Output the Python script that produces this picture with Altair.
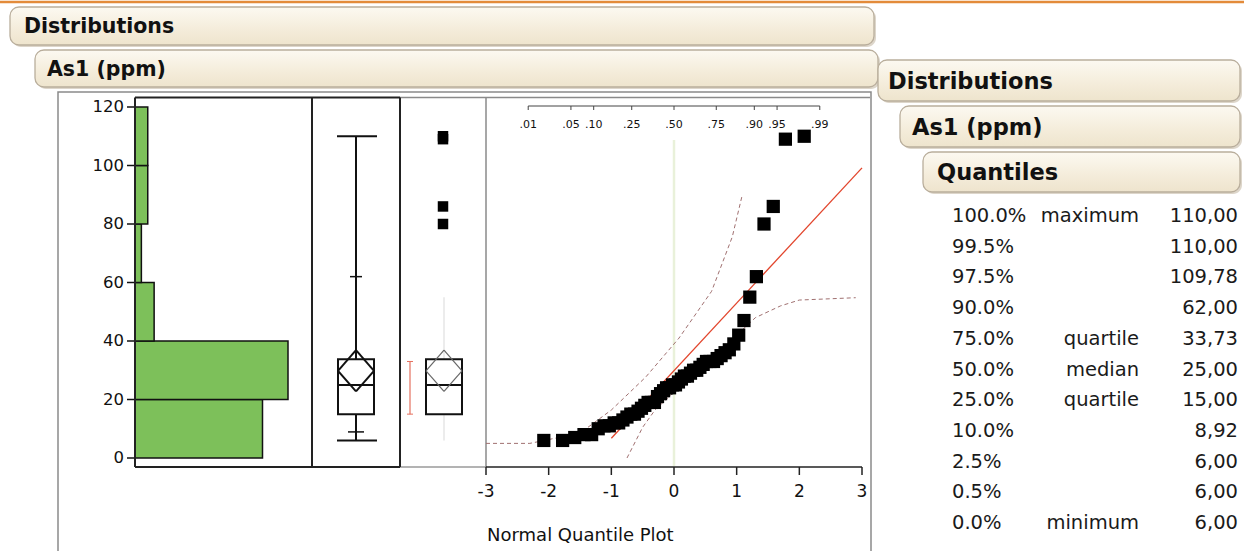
import altair as alt
import pandas as pd
from statistics import NormalDist

# ---------------- data ----------------
values = [6, 6, 7, 8, 8, 10, 11, 11, 12, 12, 13, 14, 15, 15, 16, 17, 18, 19, 19, 19,
          21, 22, 23, 24, 24, 25, 25, 26, 27, 28, 28, 29, 30, 30, 31, 32, 33, 33, 33, 34,
          35, 36, 37, 39, 42, 47, 55, 62, 80, 86, 109, 110]
bin_lo = [0, 20, 40, 60, 80, 100]
bin_hi = [20, 40, 60, 80, 100, 120]
bin_count = [20, 24, 3, 1, 2, 2]
value_ticks = [0, 20, 40, 60, 80, 100, 120]
z_ticks = [-3, -2, -1, 0, 1, 2, 3]
prob_ticks = [0.01, 0.05, 0.10, 0.25, 0.50, 0.75, 0.90, 0.95, 0.99]
prob_labels = [".01", ".05", ".10", ".25", ".50", ".75", ".90", ".95", ".99"]

box_min, box_p10, box_q1, box_med, box_q3, box_p90, box_max = 6, 8.92, 15, 25, 33.73, 62, 110
mean_lo, mean_mid, mean_hi = 22.8, 29.8, 36.9
outliers = [80, 86, 109, 110]
inner_whisker = [6, 55]
shortest_half = [15, 33]

fit_z = [-1.0, 3.0]
upper_band_z = [-3.0, -2.3, -1.5, -1.0, -0.45, 0.08, 0.6, 0.93, 1.09]
upper_band_v = [5, 5, 8.5, 16.4, 27.7, 41, 57, 75.6, 90]
lower_band_z = [-0.75, -0.5, -0.3, 0.0, 0.5, 1.0, 1.3, 1.7, 2.0, 2.9]
lower_band_v = [0, 10.5, 16.5, 22.5, 32, 42, 48, 52, 54, 54.8]

q_pct = ["100.0%", "99.5%", "97.5%", "90.0%", "75.0%", "50.0%", "25.0%", "10.0%", "2.5%", "0.5%", "0.0%"]
q_name = ["maximum", "", "", "", "quartile", "median", "quartile", "", "", "", "minimum"]
q_val = ["110,00", "110,00", "109,78", "62,00", "33,73", "25,00", "15,00", "8,92", "6,00", "6,00", "6,00"]

# ---------------- derived ----------------
nd = NormalDist()
n = len(values)
pts = pd.DataFrame({"z": [nd.inv_cdf((i + 1) / (n + 1)) for i in range(n)], "v": values})
mean = sum(values) / n
sd = (sum((v - mean) ** 2 for v in values) / (n - 1)) ** 0.5
fit = pd.DataFrame({"z": fit_z, "v": [mean + sd * z for z in fit_z], "i": [0, 1]})
ub = pd.DataFrame({"z": upper_band_z, "v": upper_band_v, "i": list(range(len(upper_band_z)))})
lb = pd.DataFrame({"z": lower_band_z, "v": lower_band_v, "i": list(range(len(lower_band_z)))})
hist = pd.DataFrame({"lo": bin_lo, "hi": bin_hi, "count": bin_count, "base": [0] * len(bin_lo)})
vt = pd.DataFrame({"v": value_ticks, "lab": [str(t) for t in value_ticks]})
zt = pd.DataFrame({"z": z_ticks, "lab": [str(t) for t in z_ticks]})
pt = pd.DataFrame({"z": [nd.inv_cdf(p) for p in prob_ticks], "lab": prob_labels})
pline = pd.DataFrame({"z1": [nd.inv_cdf(prob_ticks[0])], "z2": [nd.inv_cdf(prob_ticks[-1])]})
zline = pd.DataFrame({"z1": [z_ticks[0]], "z2": [z_ticks[-1]]})
bx = pd.DataFrame([{"mn": box_min, "p10": box_p10, "q1": box_q1, "med": box_med, "q3": box_q3,
                    "p90": box_p90, "mx": box_max, "mlo": mean_lo, "mm": mean_mid, "mhi": mean_hi,
                    "w1": inner_whisker[0], "w2": inner_whisker[1],
                    "s1": shortest_half[0], "s2": shortest_half[1]}])
out = pd.DataFrame({"v": outliers})
tbl = pd.DataFrame({"row": list(range(len(q_pct))), "pct": q_pct, "name": q_name, "val": q_val})

FONT = "DejaVu Sans"
INK = "#111111"
one = alt.Data(values=[{"a": 1}])


def YV():
    return alt.Scale(domain=[0, 120], range=[458, 107], zero=False, nice=False)


def XC():
    return alt.Scale(domain=[0, 24], range=[135, 288], zero=False, nice=False)


def XZ():
    return alt.Scale(domain=[-3, 3], range=[486, 862], zero=False, nice=False)


def yv(f):
    return alt.Y(f"{f}:Q", scale=YV(), axis=None)


def xz(f):
    return alt.X(f"{f}:Q", scale=XZ(), axis=None)


def seg(x1, y1, x2, y2, color=INK, w=1.0):
    return alt.Chart(one).mark_rule(color=color, strokeWidth=w).encode(
        x=alt.value(x1), x2=alt.value(x2), y=alt.value(y1), y2=alt.value(y2))


def box_rule(x1, x2, f1, color=INK, w=2.0):
    return alt.Chart(bx).mark_rule(color=color, strokeWidth=w).encode(
        x=alt.value(x1), x2=alt.value(x2), y=yv(f1))


def vrule(x, f1, f2, color=INK, w=2.0):
    return alt.Chart(bx).mark_rule(color=color, strokeWidth=w).encode(
        x=alt.value(x), y=yv(f1), y2=alt.Y2(f"{f2}:Q"))


def diag(xa, fa, xb, fb, color=INK, w=2.0):
    return alt.Chart(bx).mark_rule(color=color, strokeWidth=w).encode(
        x=alt.value(xa), x2=alt.value(xb), y=yv(fa), y2=alt.Y2(f"{fb}:Q"))


grad = alt.Gradient(gradient="linear", x1=0, x2=0, y1=0, y2=1,
                    stops=[alt.GradientStop(color="#fcf9f1", offset=0),
                           alt.GradientStop(color="#f4ecda", offset=0.6),
                           alt.GradientStop(color="#eee4cd", offset=1)])


def header(x1, y1, x2, y2, text, size, tx):
    shadow = alt.Chart(one).mark_rect(cornerRadius=9, fill="#ddd6ca").encode(
        x=alt.value(x1 + 2), x2=alt.value(x2 + 2), y=alt.value(y1 + 2), y2=alt.value(y2 + 2))
    box = alt.Chart(one).mark_rect(cornerRadius=9, fill=grad, stroke="#b9ae9c", strokeWidth=1.3).encode(
        x=alt.value(x1), x2=alt.value(x2), y=alt.value(y1), y2=alt.value(y2))
    lab = alt.Chart(one).mark_text(text=text, font=FONT, fontSize=size, fontWeight="bold", color=INK,
                                   align="left", baseline="middle").encode(
        x=alt.value(tx), y=alt.value((y1 + y2) / 2 + 1))
    return [shadow, box, lab]


layers = []

# top orange line
layers.append(seg(0, 2, 1244, 2, color="#e38b3a", w=2.5))

# left headers
layers += header(10, 7, 874, 45, "Distributions", 20.5, 24)
layers += header(35, 50, 878, 87, "As1 (ppm)", 20.5, 47)

# outer frame of the report
layers.append(alt.Chart(one).mark_rect(fill="white", stroke="#8a8a8a", strokeWidth=1.5).encode(
    x=alt.value(58), x2=alt.value(871), y=alt.value(92), y2=alt.value(600)))

# panel frames
layers.append(seg(400, 97.5, 870, 97.5, color="#8a8a8a", w=1.5))
layers.append(seg(400, 467, 486, 467, color="#9a9a9a", w=1.5))
layers.append(seg(486, 97.5, 486, 467, color="#8a8a8a", w=1.5))

# faint green centre line of the quantile plot
layers.append(alt.Chart(pd.DataFrame({"z": [0]})).mark_rule(color="#e9f1da", strokeWidth=2.5).encode(
    x=xz("z"), y=alt.value(140), y2=alt.value(466)))

# histogram
layers.append(alt.Chart(hist).mark_rect(fill="#7dc05a", stroke=INK, strokeWidth=1.5).encode(
    x=alt.X("base:Q", scale=XC(), axis=None), x2=alt.X2("count:Q"),
    y=yv("lo"), y2=alt.Y2("hi:Q")))
layers.append(alt.Chart(vt).mark_rule(color=INK, strokeWidth=1.5).encode(
    y=yv("v"), x=alt.value(127), x2=alt.value(135)))
layers.append(alt.Chart(vt).mark_text(font=FONT, fontSize=16.5, color=INK, align="right", baseline="middle").encode(
    y=yv("v"), x=alt.value(124), text="lab:N"))

# dark frames of histogram and box panel
layers.append(seg(135, 97.5, 400, 97.5, color="#222", w=2))
layers.append(seg(135, 467, 400, 467, color="#222", w=2))
layers.append(seg(135, 97.5, 135, 467, color="#222", w=2))
layers.append(seg(312, 97.5, 312, 467, color="#222", w=2))
layers.append(seg(400, 97.5, 400, 467, color="#222", w=2))

# quantile box plot
layers.append(vrule(356, "q3", "mx"))
layers.append(vrule(356, "mn", "q1"))
layers.append(box_rule(337, 377, "mx"))
layers.append(box_rule(337, 377, "mn"))
layers.append(box_rule(348, 364, "p10", w=1.5))
layers.append(box_rule(350, 362, "p90", w=1.5))
layers.append(alt.Chart(bx).mark_rect(fill="white", stroke=INK, strokeWidth=2).encode(
    x=alt.value(338), x2=alt.value(374), y=yv("q1"), y2=alt.Y2("q3:Q")))
layers.append(box_rule(338, 374, "med"))
layers.append(diag(338, "mm", 356, "mhi"))
layers.append(diag(356, "mhi", 374, "mm"))
layers.append(diag(374, "mm", 356, "mlo"))
layers.append(diag(356, "mlo", 338, "mm"))

# outlier box plot
layers.append(vrule(444, "q3", "w2", color="#ececec", w=2))
layers.append(vrule(444, "w1", "q1", color="#ececec", w=2))
layers.append(alt.Chart(bx).mark_rect(fill="white", stroke=INK, strokeWidth=2).encode(
    x=alt.value(426), x2=alt.value(462), y=yv("q1"), y2=alt.Y2("q3:Q")))
layers.append(box_rule(426, 462, "med"))
layers.append(diag(426, "mm", 444, "mhi", color="#666", w=1.2))
layers.append(diag(444, "mhi", 462, "mm", color="#666", w=1.2))
layers.append(diag(462, "mm", 444, "mlo", color="#666", w=1.2))
layers.append(diag(444, "mlo", 426, "mm", color="#666", w=1.2))
layers.append(vrule(410, "s1", "s2", color="#e5705e", w=1.2))
layers.append(box_rule(407, 413, "s1", color="#e5705e", w=1))
layers.append(box_rule(407, 413, "s2", color="#e5705e", w=1))
layers.append(alt.Chart(out).mark_point(shape="square", filled=True, color="#000", opacity=1, size=110).encode(
    x=alt.value(443), y=yv("v")))

# normal quantile plot
layers.append(alt.Chart(ub).mark_line(color="#a07070", strokeWidth=1, strokeDash=[4, 3]).encode(
    x=xz("z"), y=yv("v"), order="i:Q"))
layers.append(alt.Chart(lb).mark_line(color="#a07070", strokeWidth=1, strokeDash=[4, 3]).encode(
    x=xz("z"), y=yv("v"), order="i:Q"))
layers.append(alt.Chart(fit).mark_line(color="#e2452c", strokeWidth=1.3).encode(
    x=xz("z"), y=yv("v"), order="i:Q"))
layers.append(alt.Chart(pts).mark_point(shape="square", filled=True, color="#000", opacity=1, size=175).encode(
    x=xz("z"), y=yv("v")))

# top probability axis
layers.append(alt.Chart(pline).mark_rule(color="#444", strokeWidth=1).encode(
    x=xz("z1"), x2=alt.X2("z2:Q"), y=alt.value(106)))
layers.append(alt.Chart(pt).mark_rule(color="#444", strokeWidth=1).encode(
    x=xz("z"), y=alt.value(106), y2=alt.value(110)))
layers.append(alt.Chart(pt).mark_text(font=FONT, fontSize=11, color=INK, align="center", baseline="middle").encode(
    x=xz("z"), y=alt.value(125), text="lab:N"))

# bottom normal quantile axis
layers.append(alt.Chart(zline).mark_rule(color="#222", strokeWidth=1.5).encode(
    x=xz("z1"), x2=alt.X2("z2:Q"), y=alt.value(467)))
layers.append(alt.Chart(zt).mark_rule(color="#222", strokeWidth=1.5).encode(
    x=xz("z"), y=alt.value(467), y2=alt.value(475)))
layers.append(alt.Chart(zt).mark_text(font=FONT, fontSize=17, color=INK, align="center", baseline="middle").encode(
    x=xz("z"), y=alt.value(492), text="lab:N"))
layers.append(alt.Chart(one).mark_text(text="Normal Quantile Plot", font=FONT, fontSize=18, color=INK,
                                       align="left", baseline="middle").encode(
    x=alt.value(487), y=alt.value(536)))

# right headers
layers += header(878, 60, 1240, 101, "Distributions", 22.5, 888)
layers += header(900, 106, 1240, 147, "As1 (ppm)", 22.5, 912)
layers += header(923, 152, 1240, 192, "Quantiles", 22.5, 937)

# quantiles table
YR = alt.Scale(domain=[0, len(q_pct) - 1], range=[216, 523], zero=False, nice=False)
layers.append(alt.Chart(tbl).mark_text(font=FONT, fontSize=19.5, color="#1a1a1a", align="left", baseline="middle").encode(
    x=alt.value(952), y=alt.Y("row:Q", scale=YR, axis=None), text="pct:N"))
layers.append(alt.Chart(tbl).mark_text(font=FONT, fontSize=19.5, color="#1a1a1a", align="right", baseline="middle").encode(
    x=alt.value(1139), y=alt.Y("row:Q", scale=YR, axis=None), text="name:N"))
layers.append(alt.Chart(tbl).mark_text(font=FONT, fontSize=19.5, color="#1a1a1a", align="right", baseline="middle").encode(
    x=alt.value(1238), y=alt.Y("row:Q", scale=YR, axis=None), text="val:N"))

chart = alt.layer(*layers).resolve_scale(x="independent", y="independent").properties(
    width=1244, height=551, padding=0, background="white",
    autosize=alt.AutoSizeParams(type="none"),
).configure_view(stroke=None)

chart.save("out.html", embed_options={"renderer": "svg", "actions": False})
